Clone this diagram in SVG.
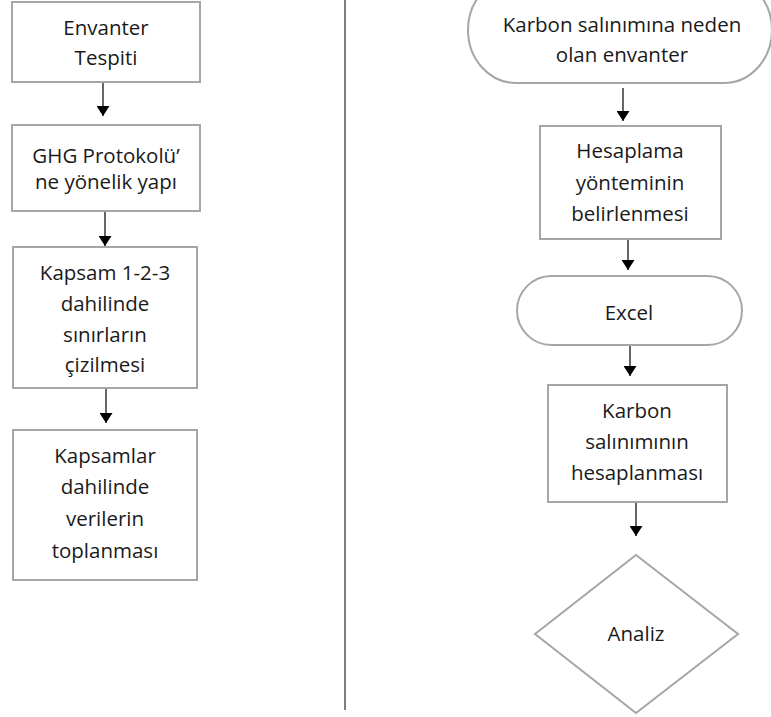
<svg xmlns="http://www.w3.org/2000/svg" width="771" height="717" viewBox="0 0 771 717">
<style>
.shape{fill:#ffffff;stroke:#a6a6a6;stroke-width:2}
.lbl{font-family:"Open Sans","Noto Sans","Liberation Sans",sans-serif;font-size:20.5px;fill:#1a1a1a;text-anchor:middle}
.conn{stroke:#000000;stroke-width:1.2;fill:none;marker-end:url(#arr)}
.divider{stroke:#3a3a3a;stroke-width:1.3}
</style>
<defs>
<marker id="arr" viewBox="0 0 10 10" refX="10" refY="5" markerWidth="10" markerHeight="13" markerUnits="userSpaceOnUse" orient="auto" preserveAspectRatio="none">
<path d="M0,0 L10,5 L0,10 z" fill="#000000"/>
</marker>
</defs>
<rect width="771" height="717" fill="#ffffff"/>
<line class="divider" x1="345" y1="0" x2="345" y2="710"/>
<g id="connectors">
<line class="conn" x1="103" y1="83" x2="103" y2="116"/>
<line class="conn" x1="105" y1="212" x2="105" y2="246"/>
<line class="conn" x1="106" y1="389" x2="106" y2="423"/>
<line class="conn" x1="623" y1="88" x2="623" y2="121"/>
<line class="conn" x1="628" y1="240" x2="628" y2="270"/>
<line class="conn" x1="630" y1="346" x2="630" y2="376"/>
<line class="conn" x1="636" y1="503" x2="636" y2="536"/>
</g>
<g id="envanter-tespiti">
<rect class="shape" x="12" y="2" width="188" height="80"/>
<text class="lbl" x="106" y="35">Envanter</text>
<text class="lbl" x="106" y="65">Tespiti</text>
</g>
<g id="ghg-protokolu">
<rect class="shape" x="12" y="125" width="188" height="86"/>
<text class="lbl" x="106" y="163">GHG Protokolü’</text>
<text class="lbl" x="106" y="189">ne yönelik yapı</text>
</g>
<g id="kapsam-123">
<rect class="shape" x="13" y="247" width="184" height="141"/>
<text class="lbl" x="105" y="280">Kapsam 1-2-3</text>
<text class="lbl" x="105" y="311">dahilinde</text>
<text class="lbl" x="105" y="342">sınırların</text>
<text class="lbl" x="105" y="372">çizilmesi</text>
</g>
<g id="kapsamlar-veriler">
<rect class="shape" x="13" y="430" width="184" height="150"/>
<text class="lbl" x="105" y="463">Kapsamlar</text>
<text class="lbl" x="105" y="494">dahilinde</text>
<text class="lbl" x="105" y="526">verilerin</text>
<text class="lbl" x="105" y="558">toplanması</text>
</g>
<g id="karbon-envanter">
<rect class="shape" x="468" y="-23" width="304" height="106" rx="48" ry="53"/>
<text class="lbl" x="622" y="32">Karbon salınımına neden</text>
<text class="lbl" x="622" y="62">olan envanter</text>
</g>
<g id="hesaplama-yontemi">
<rect class="shape" x="540" y="126" width="181" height="113"/>
<text class="lbl" x="630" y="158">Hesaplama</text>
<text class="lbl" x="630" y="190">yönteminin</text>
<text class="lbl" x="630" y="221">belirlenmesi</text>
</g>
<g id="excel">
<rect class="shape" x="517" y="276" width="225" height="69" rx="34.5" ry="34.5"/>
<text class="lbl" x="629" y="320">Excel</text>
</g>
<g id="karbon-hesaplama">
<rect class="shape" x="548" y="385" width="179" height="117"/>
<text class="lbl" x="637" y="418">Karbon</text>
<text class="lbl" x="637" y="449">salınımının</text>
<text class="lbl" x="637" y="480">hesaplanması</text>
</g>
<g id="analiz">
<polygon class="shape" points="636,555 738,634 636,713 535,634"/>
<text class="lbl" x="636" y="641">Analiz</text>
</g>
</svg>
